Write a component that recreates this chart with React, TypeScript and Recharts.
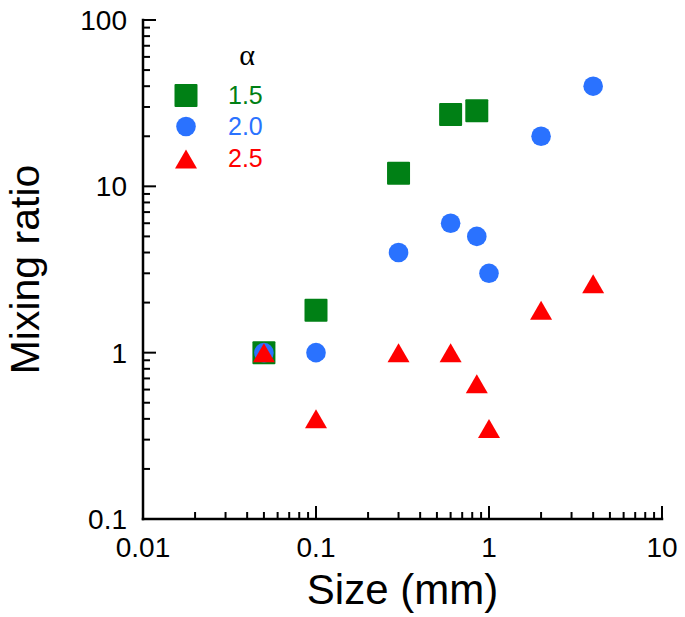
import React from 'react';
import { ScatterChart, Scatter, XAxis, YAxis, Legend } from 'recharts';

// ---- data ----
const sizesA15 = [0.05, 0.1, 0.3, 0.6, 0.85];
const ratioA15 = [1.0, 1.8, 12, 27, 28.5];

const sizesA20 = [0.05, 0.1, 0.3, 0.6, 0.85, 1, 2, 4];
const ratioA20 = [1.0, 1.0, 4, 6, 5, 3, 20, 40];

const sizesA25 = [0.05, 0.1, 0.3, 0.6, 0.85, 1, 2, 4];
const ratioA25 = [1.0, 0.4, 1.0, 1.0, 0.65, 0.35, 1.8, 2.6];

const seriesNames = ['1.5', '2.0', '2.5'];
const seriesColors = ['#008015', '#2a72ff', '#ff0000'];

// ---- tick labels ----
const xMajorTicks = [0.01, 0.1, 1, 10];
const yMajorTicks = [0.1, 1, 10, 100];
const minorMantissas = [2, 3, 4, 5, 6, 7, 8, 9];

const withMinors = (majors: number[]) => {
  const out: number[] = [];
  majors.forEach((m, i) => {
    out.push(m);
    if (i < majors.length - 1) minorMantissas.forEach((k) => out.push(+(m * k).toPrecision(6)));
  });
  return out;
};
const xTicks = withMinors(xMajorTicks);
const yTicks = withMinors(yMajorTicks);

const toPoints = (xs: number[], ys: number[]) => xs.map((x, i) => ({ x, y: ys[i] }));
const dataA15 = toPoints(sizesA15, ratioA15);
const dataA20 = toPoints(sizesA20, ratioA20);
const dataA25 = toPoints(sizesA25, ratioA25);

const FONT = '"Liberation Sans", Arial, Helvetica, sans-serif';
const MAJOR = 13;
const MINOR = 7;
const TICK_W = 2;
const AXIS_W = 2.5;
const isMajor = (v: number) => Math.abs(Math.log10(v) - Math.round(Math.log10(v))) < 1e-6;

// ---- marks ----
const SquareMark = ({ cx, cy, fill }: any) => (
  <rect x={cx - 11.5} y={cy - 11.5} width={23} height={23} rx={1} fill={fill} />
);
const CircleMark = ({ cx, cy, fill }: any) => <circle cx={cx} cy={cy} r={9.8} fill={fill} />;
const TriangleMark = ({ cx, cy, fill }: any) => (
  <polygon
    points={`${cx},${cy - 9.5} ${cx - 11},${cy + 9.5} ${cx + 11},${cy + 9.5}`}
    fill={fill}
  />
);

// ---- ticks ----
const BottomTick = ({ x, y, payload }: any) => {
  const v = payload.value;
  const mj = isMajor(v);
  return (
    <g>
      <line x1={x} x2={x} y1={y} y2={y - (mj ? MAJOR : MINOR)} stroke="#000" strokeWidth={TICK_W} />
      {mj && (
        <text x={x} y={y + 38} textAnchor="middle" fontSize={28} fontFamily={FONT} fill="#000">
          {String(v)}
        </text>
      )}
    </g>
  );
};
const TopTick = ({ x, y, payload }: any) => {
  const mj = isMajor(payload.value);
  return <line x1={x} x2={x} y1={y} y2={y + (mj ? MAJOR : MINOR)} stroke="#000" strokeWidth={TICK_W} />;
};
const LeftTick = ({ x, y, payload }: any) => {
  const v = payload.value;
  const mj = isMajor(v);
  return (
    <g>
      <line x1={x} x2={x + (mj ? MAJOR : MINOR)} y1={y} y2={y} stroke="#000" strokeWidth={TICK_W} />
      {mj && (
        <text x={x - 16} y={y + 10} textAnchor="end" fontSize={28} fontFamily={FONT} fill="#000">
          {String(v)}
        </text>
      )}
    </g>
  );
};
const RightTick = ({ x, y, payload }: any) => {
  const mj = isMajor(payload.value);
  return <line x1={x} x2={x - (mj ? MAJOR : MINOR)} y1={y} y2={y} stroke="#000" strokeWidth={TICK_W} />;
};

// ---- axis titles ----
const XTitle = ({ viewBox }: any) => {
  const { x, y, width } = viewBox;
  return (
    <text x={x + width / 2} y={y + 85} textAnchor="middle" fontSize={42} fontFamily={FONT} fill="#000">
      Size (mm)
    </text>
  );
};
const YTitle = ({ viewBox }: any) => {
  const { x, y, height } = viewBox;
  const tx = x + 39;
  const ty = y + height / 2;
  return (
    <text
      x={tx}
      y={ty}
      transform={`rotate(-90, ${tx}, ${ty})`}
      textAnchor="middle"
      fontSize={41}
      fontFamily={FONT}
      fill="#000"
    >
      Mixing ratio
    </text>
  );
};

// ---- legend ----
const LegendContent = ({ payload }: any) => {
  const items = payload || [];
  return (
    <svg width={130} height={145} style={{ overflow: 'visible', display: 'block' }}>
      <text x={82} y={30} textAnchor="middle" fontSize={30} fontFamily='"Liberation Serif", "DejaVu Serif", serif' fill="#000">
        α
      </text>
      {items.map((it: any, i: number) => {
        const cy = [60.5, 91.5, 124][i];
        const cx = 21;
        const color = it.color;
        const mark =
          it.type === 'square' ? (
            <SquareMark cx={cx} cy={cy} fill={color} />
          ) : it.type === 'circle' ? (
            <CircleMark cx={cx} cy={cy} fill={color} />
          ) : (
            <TriangleMark cx={cx} cy={cy} fill={color} />
          );
        return (
          <g key={it.value}>
            {mark}
            <text x={63} y={cy + 8} fontSize={25} fontFamily={FONT} fill={color}>
              {it.value}
            </text>
          </g>
        );
      })}
    </svg>
  );
};

export default function App() {
  return (
    <div style={{ position: 'absolute', left: 0, top: 0, background: '#fff' }}>
      <ScatterChart width={685} height={617} margin={{ top: 20, right: 23, bottom: 0, left: 0 }}>
        <XAxis
          xAxisId="b"
          dataKey="x"
          type="number"
          scale="log"
          domain={[0.01, 10]}
          allowDataOverflow
          ticks={xTicks}
          interval={0}
          orientation="bottom"
          height={98}
          tickSize={0}
          tickMargin={0}
          tickLine={false}
          tick={<BottomTick />}
          axisLine={{ stroke: '#000', strokeWidth: AXIS_W, strokeLinecap: 'square' }}
          label={<XTitle />}
        />
        <XAxis
          xAxisId="t"
          dataKey="x"
          type="number"
          scale="log"
          domain={[0.01, 10]}
          allowDataOverflow
          ticks={xTicks}
          interval={0}
          orientation="top"
          height={0}
          tickSize={0}
          tickMargin={0}
          tickLine={false}
          tick={<TopTick />}
          axisLine={{ stroke: '#000', strokeWidth: AXIS_W, strokeLinecap: 'square' }}
        />
        <YAxis
          yAxisId="l"
          dataKey="y"
          type="number"
          scale="log"
          domain={[0.1, 100]}
          allowDataOverflow
          ticks={yTicks}
          interval={0}
          orientation="left"
          width={143}
          tickSize={0}
          tickMargin={0}
          tickLine={false}
          tick={<LeftTick />}
          axisLine={{ stroke: '#000', strokeWidth: AXIS_W, strokeLinecap: 'square' }}
          label={<YTitle />}
        />
        <YAxis
          yAxisId="r"
          dataKey="y"
          type="number"
          scale="log"
          domain={[0.1, 100]}
          allowDataOverflow
          ticks={yTicks}
          interval={0}
          orientation="right"
          width={0}
          tickSize={0}
          tickMargin={0}
          tickLine={false}
          tick={<RightTick />}
          axisLine={{ stroke: '#000', strokeWidth: AXIS_W, strokeLinecap: 'square' }}
        />
        <Legend
          layout="horizontal"
          verticalAlign="middle"
          align="center"
          wrapperStyle={{ left: 165, top: 35, width: 130, height: 145 }}
          content={<LegendContent />}
        />
        <Scatter
          name={seriesNames[0]}
          data={dataA15}
          xAxisId="b"
          yAxisId="l"
          fill={seriesColors[0]}
          legendType="square"
          shape={(p: any) => <SquareMark cx={p.cx} cy={p.cy} fill={seriesColors[0]} />}
          isAnimationActive={false}
        />
        <Scatter
          name={seriesNames[1]}
          data={dataA20}
          xAxisId="b"
          yAxisId="l"
          fill={seriesColors[1]}
          legendType="circle"
          shape={(p: any) => <CircleMark cx={p.cx} cy={p.cy} fill={seriesColors[1]} />}
          isAnimationActive={false}
        />
        <Scatter
          name={seriesNames[2]}
          data={dataA25}
          xAxisId="b"
          yAxisId="l"
          fill={seriesColors[2]}
          legendType="triangle"
          shape={(p: any) => <TriangleMark cx={p.cx} cy={p.cy} fill={seriesColors[2]} />}
          isAnimationActive={false}
        />
      </ScatterChart>
    </div>
  );
}
